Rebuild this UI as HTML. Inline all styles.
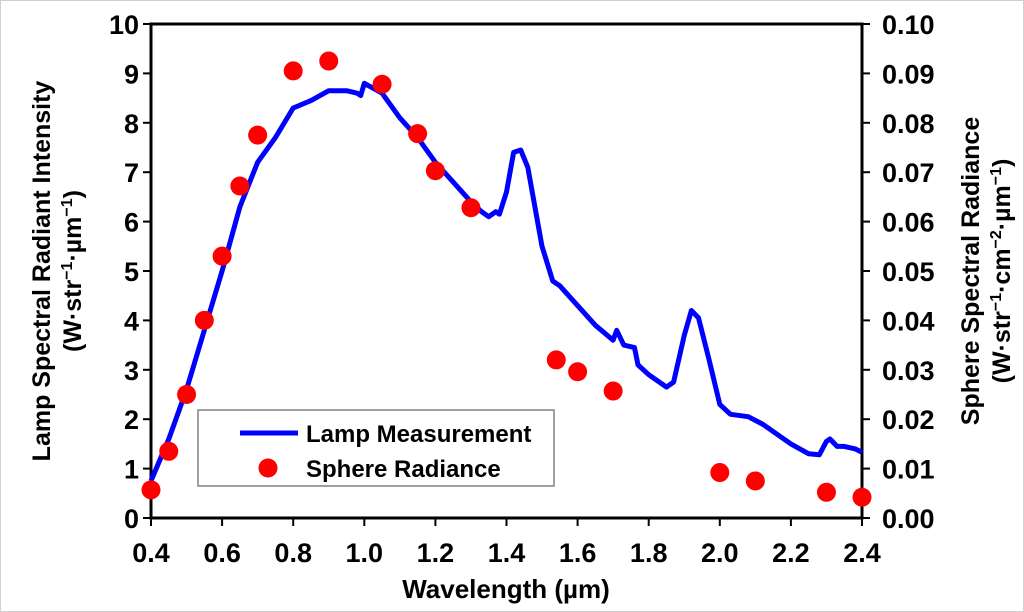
<!DOCTYPE html>
<html><head><meta charset="utf-8"><style>
body{margin:0;background:#fff}
svg{display:block;font-family:"Liberation Sans",sans-serif;font-weight:bold}
</style></head><body>
<svg id="c" width="1024" height="612" viewBox="0 0 1024 612">
<rect x="0.5" y="0.5" width="1023" height="611" fill="#fff" stroke="#d0d0d0"/>
<g id="g"></g>
</svg>
<script>
const lampX=[0.40,0.45,0.50,0.55,0.60,0.65,0.70,0.75,0.80,0.85,0.90,0.95,0.98,0.99,1.00,1.05,1.10,1.15,1.20,1.25,1.30,1.33,1.35,1.37,1.38,1.40,1.42,1.44,1.46,1.48,1.50,1.53,1.55,1.60,1.65,1.70,1.71,1.73,1.76,1.77,1.80,1.85,1.87,1.90,1.92,1.94,1.97,2.00,2.03,2.08,2.12,2.16,2.20,2.25,2.28,2.30,2.31,2.33,2.35,2.38,2.40];
const lampY=[0.75,1.6,2.6,3.8,5.0,6.3,7.2,7.7,8.3,8.45,8.65,8.65,8.6,8.55,8.8,8.6,8.1,7.7,7.2,6.8,6.4,6.2,6.1,6.2,6.15,6.6,7.4,7.45,7.1,6.3,5.5,4.8,4.7,4.3,3.9,3.6,3.8,3.5,3.45,3.1,2.9,2.65,2.75,3.7,4.2,4.05,3.2,2.3,2.1,2.05,1.9,1.7,1.5,1.3,1.28,1.55,1.6,1.45,1.45,1.4,1.33];
const sphX=[0.40,0.45,0.50,0.55,0.60,0.65,0.70,0.80,0.90,1.05,1.15,1.20,1.30,1.54,1.60,1.70,2.00,2.10,2.30,2.40];
const sphY=[0.0057,0.0135,0.025,0.040,0.053,0.0672,0.0775,0.0905,0.0925,0.0878,0.0778,0.0703,0.0628,0.032,0.0296,0.0257,0.0092,0.0075,0.0052,0.0042];
const xTicks=["0.4","0.6","0.8","1.0","1.2","1.4","1.6","1.8","2.0","2.2","2.4"];
const yTicks=["0","1","2","3","4","5","6","7","8","9","10"];
const y2Ticks=["0.00","0.01","0.02","0.03","0.04","0.05","0.06","0.07","0.08","0.09","0.10"];
const L=151,R=862,T=24,B=518;
const sx=v=>L+(v-0.4)/2.0*(R-L);
const sy=v=>B-v/10*(B-T);
const sy2=v=>B-v/0.1*(B-T);
const NS="http://www.w3.org/2000/svg",g=document.getElementById('g');
function mk(t,a,txt){const e=document.createElementNS(NS,t);for(const k in a)e.setAttribute(k,a[k]);if(txt!=null)e.textContent=txt;g.appendChild(e);return e;}
let e=mk('rect',{x:L,y:T,width:R-L,height:B-T,fill:'none',stroke:'#000','stroke-width':3});


xTicks.forEach(t=>{const x=sx(+t);
 let l=mk('line',{x1:x,x2:x,y1:B,y2:B+8,stroke:'#000','stroke-width':2});
 
 
 let s=mk('text',{x:x,y:B+44,'text-anchor':'middle','font-size':27},t);
 
 });
yTicks.forEach(t=>{const y=sy(+t);
 let l=mk('line',{x1:L-8,x2:L,y1:y,y2:y,stroke:'#000','stroke-width':2});
 
 
 let s=mk('text',{x:L-12,y:y+10,'text-anchor':'end','font-size':27},t);
 
 });
y2Ticks.forEach(t=>{const y=sy2(+t);
 let l=mk('line',{x1:R,x2:R+8,y1:y,y2:y,stroke:'#000','stroke-width':2});
 
 
 let s=mk('text',{x:R+20,y:y+10,'text-anchor':'start','font-size':27},t);
 
 });
let d=lampX.map((x,i)=>(i?'L':'M')+sx(x).toFixed(1)+','+sy(lampY[i]).toFixed(1)).join('');
e=mk('path',{d:d,fill:'none',stroke:'#0000ff','stroke-width':5,'stroke-linejoin':'round'});


sphX.forEach((x,i)=>{let c=mk('circle',{cx:sx(x),cy:sy2(sphY[i]),r:9.5,fill:'#ff0000'});
 
 });
e=mk('rect',{x:198,y:410,width:356,height:76,fill:'#fff',stroke:'#808080','stroke-width':1.5});


e=mk('line',{x1:240,x2:298,y1:433,y2:433,stroke:'#0000ff','stroke-width':5});


e=mk('text',{x:306,y:442,'font-size':24},'Lamp Measurement');


e=mk('circle',{cx:268,cy:468,r:9.5,fill:'#ff0000'});


e=mk('text',{x:306,y:477,'font-size':24},'Sphere Radiance');


e=mk('text',{x:506,y:598,'text-anchor':'middle','font-size':26},'Wavelength (µm)');


e=mk('text',{transform:'translate(50,271) rotate(-90)','text-anchor':'middle','font-size':25},'Lamp Spectral Radiant Intensity');


e=mk('text',{transform:'translate(81,271) rotate(-90)','text-anchor':'middle','font-size':25});
e.innerHTML='(W·str<tspan dy="-9" font-size="16">−1</tspan><tspan dy="9">·µm</tspan><tspan dy="-9" font-size="16">−1</tspan><tspan dy="9">)</tspan>';


e=mk('text',{transform:'translate(979,271) rotate(-90)','text-anchor':'middle','font-size':25},'Sphere Spectral Radiance');


e=mk('text',{transform:'translate(1010,271) rotate(-90)','text-anchor':'middle','font-size':25});
e.innerHTML='(W·str<tspan dy="-9" font-size="16">−1</tspan><tspan dy="9">·cm</tspan><tspan dy="-9" font-size="16">−2</tspan><tspan dy="9">·µm</tspan><tspan dy="-9" font-size="16">−1</tspan><tspan dy="9">)</tspan>';


</script>
</body></html>
